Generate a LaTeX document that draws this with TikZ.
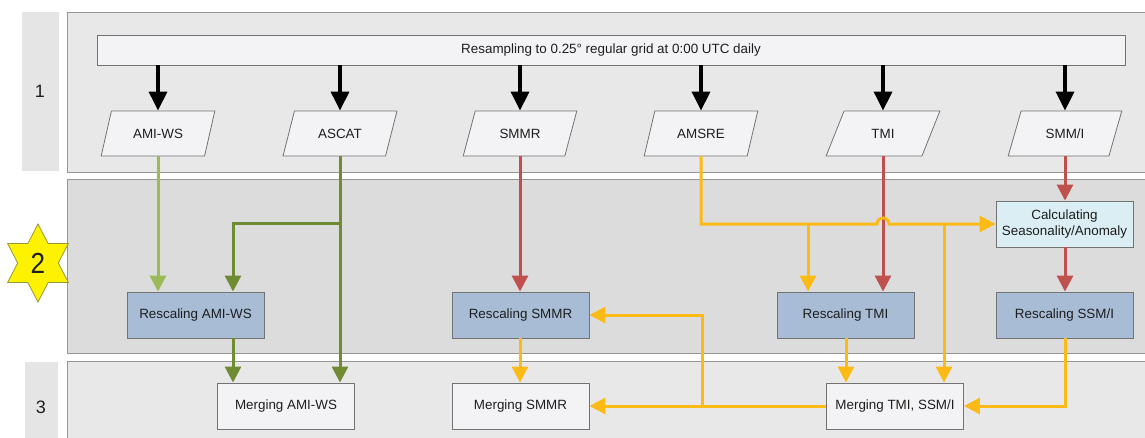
\documentclass[tikz,border=0pt]{standalone}
\usepackage{fontspec}
\setmainfont{Liberation Sans}
\usetikzlibrary{arrows.meta,shapes.geometric}
\definecolor{panelA}{RGB}{232,232,232}
\definecolor{panelB}{RGB}{220,220,220}
\definecolor{panelLbl}{RGB}{229,229,229}
\definecolor{panelLine}{RGB}{150,150,150}
\definecolor{boxLine}{RGB}{115,115,115}
\definecolor{resc}{RGB}{168,188,214}
\definecolor{merg}{RGB}{243,243,245}
\definecolor{calcfill}{RGB}{218,238,243}
\definecolor{lgreen}{RGB}{155,187,89}
\definecolor{dgreen}{RGB}{112,140,50}
\definecolor{dred}{RGB}{192,80,77}
\definecolor{gold}{RGB}{252,186,22}
\definecolor{txt}{RGB}{30,30,30}
\definecolor{starline}{RGB}{150,150,60}
\begin{document}
\begin{tikzpicture}[x=1pt,y=-1pt,
  font=\fontsize{13.4}{16}\selectfont,
  box/.style={rectangle, draw=boxLine, line width=0.9pt, minimum width=137pt, minimum height=46pt, inner sep=2pt, align=center, text=txt},
  rescbox/.style={box, fill=resc},
  mergbox/.style={box, fill=merg},
  calcbox/.style={box, fill=calcfill},
  sensor/.style={trapezium, trapezium left angle=60, trapezium right angle=120, trapezium stretches=true, minimum width=114pt, minimum height=45pt, draw=boxLine, line width=0.8pt, fill=merg, inner sep=0pt, text=txt},
  blk/.style={-{Triangle[width=18pt,length=19pt]}, line width=3.3pt, black},
  cl/.style={line width=3pt},
  tipc/.style={-{Triangle[width=16pt,length=16pt]}},
  panel/.style={draw=panelLine, line width=1pt},
  lbl/.style={font=\fontsize{18}{18}\selectfont, text=txt},
]
\useasboundingbox (0,0) rectangle (1145,437);
\fill[white] (0,0) rectangle (1145,437);
% panels
\fill[panelLbl] (22,12) rectangle (59,171);
\fill[panelLbl] (25,362) rectangle (58,445);
\path[panel, fill=panelA] (67,12) rectangle (1160,172);
\path[panel, fill=panelB] (67,179) rectangle (1160,353);
\path[panel, fill=panelA] (67,361) rectangle (1160,450);
\node[lbl] (l1) at (40,91) {1};
\node[lbl] (l3) at (41,407) {3};
\node[star, star points=6, star point ratio=1.73, minimum size=78pt, inner sep=0pt, xscale=0.9,
      fill=yellow, draw=starline, line width=0.8pt, text=txt,
      font=\fontsize{29}{29}\selectfont] (star) at (38,263) {2};

% resampling bar
\node[rectangle, draw=boxLine, line width=0.9pt, fill=merg, minimum width=1028pt, minimum height=30pt, text=txt] (bar) at (611,50) {Resampling to 0.25° regular grid at 0:00 UTC daily};

% sensors
\node[sensor] (p1) at (158,133.5) {AMI-WS};
\node[sensor] (p2) at (340,133.5) {ASCAT};
\node[sensor] (p3) at (520,133.5) {SMMR};
\node[sensor] (p4) at (701,133.5) {AMSRE};
\node[sensor] (p5) at (883,133.5) {TMI};
\node[sensor] (p6) at (1065,133.5) {SMM/I};

% boxes
\node[calcbox] (calc) at (1064.5,224) {Calculating\\Seasonality/Anomaly};
\node[rescbox] (rAMI) at (195.5,315) {Rescaling AMI-WS};
\node[rescbox] (rSMMR) at (520.5,315) {Rescaling SMMR};
\node[rescbox] (rTMI) at (845.5,315) {Rescaling TMI};
\node[rescbox] (rSSM) at (1064.5,315) {Rescaling SSM/I};
\node[mergbox] (mAMI) at (286,406) {Merging AMI-WS};
\node[mergbox] (mSMMR) at (520.5,406) {Merging SMMR};
\node[mergbox] (mTMI) at (895,406) {Merging TMI, SSM/I};

% black arrows
\foreach \p in {p1,p2,p3,p4,p5,p6}
  \draw[blk] (bar.south -| \p.north) -- (\p.north);

% green
\draw[lgreen, cl, tipc] (p1.south) -- (p1.south |- rAMI.north);
\draw[dgreen, cl, tipc] (p2.south) -- (p2.south |- mAMI.north);
\coordinate (g1) at (233,223);
\draw[dgreen, cl, tipc] (p2.south |- g1) -- (g1) -- (g1 |- rAMI.north);
\draw[dgreen, cl, tipc] (g1 |- rAMI.south) -- (g1 |- mAMI.north);

% red
\draw[dred, cl, tipc] (p3.south) -- (p3.south |- rSMMR.north);
\draw[dred, cl, tipc] (p5.south) -- (p5.south |- rTMI.north);
\draw[dred, cl, tipc] (p6.south) -- (p6.south |- calc.north);
\draw[dred, cl, tipc] (calc.south -| p6.south) -- (p6.south |- rSSM.north);

% gold
\draw[gold, cl, tipc] (p4.south) -- (p4.south |- calc.west)
   -- ([xshift=-6pt]p5.south |- calc.west) arc[start angle=180, end angle=0, radius=6pt]
   -- (calc.west);
\coordinate (bT) at (808,224);
\coordinate (bM) at (944,224);
\draw[gold, cl, tipc] (bT) -- (bT |- rTMI.north);
\draw[gold, cl, tipc] (bM) -- (bM |- mTMI.north);
\coordinate (cT) at (846,330);
\draw[gold, cl, tipc] (cT |- rTMI.south) -- (cT |- mTMI.north);
\draw[gold, cl, tipc] (p3.south |- rSMMR.south) -- (p3.south |- mSMMR.north);
\draw[gold, cl, tipc] (p6.south |- rSSM.south) |- (mTMI.east);
\draw[gold, cl, tipc] (mTMI.west) -- (mSMMR.east);
\coordinate (bS) at (702,406);
\draw[gold, cl, tipc] (bS) |- (rSMMR.east);
\end{tikzpicture}
\end{document}
